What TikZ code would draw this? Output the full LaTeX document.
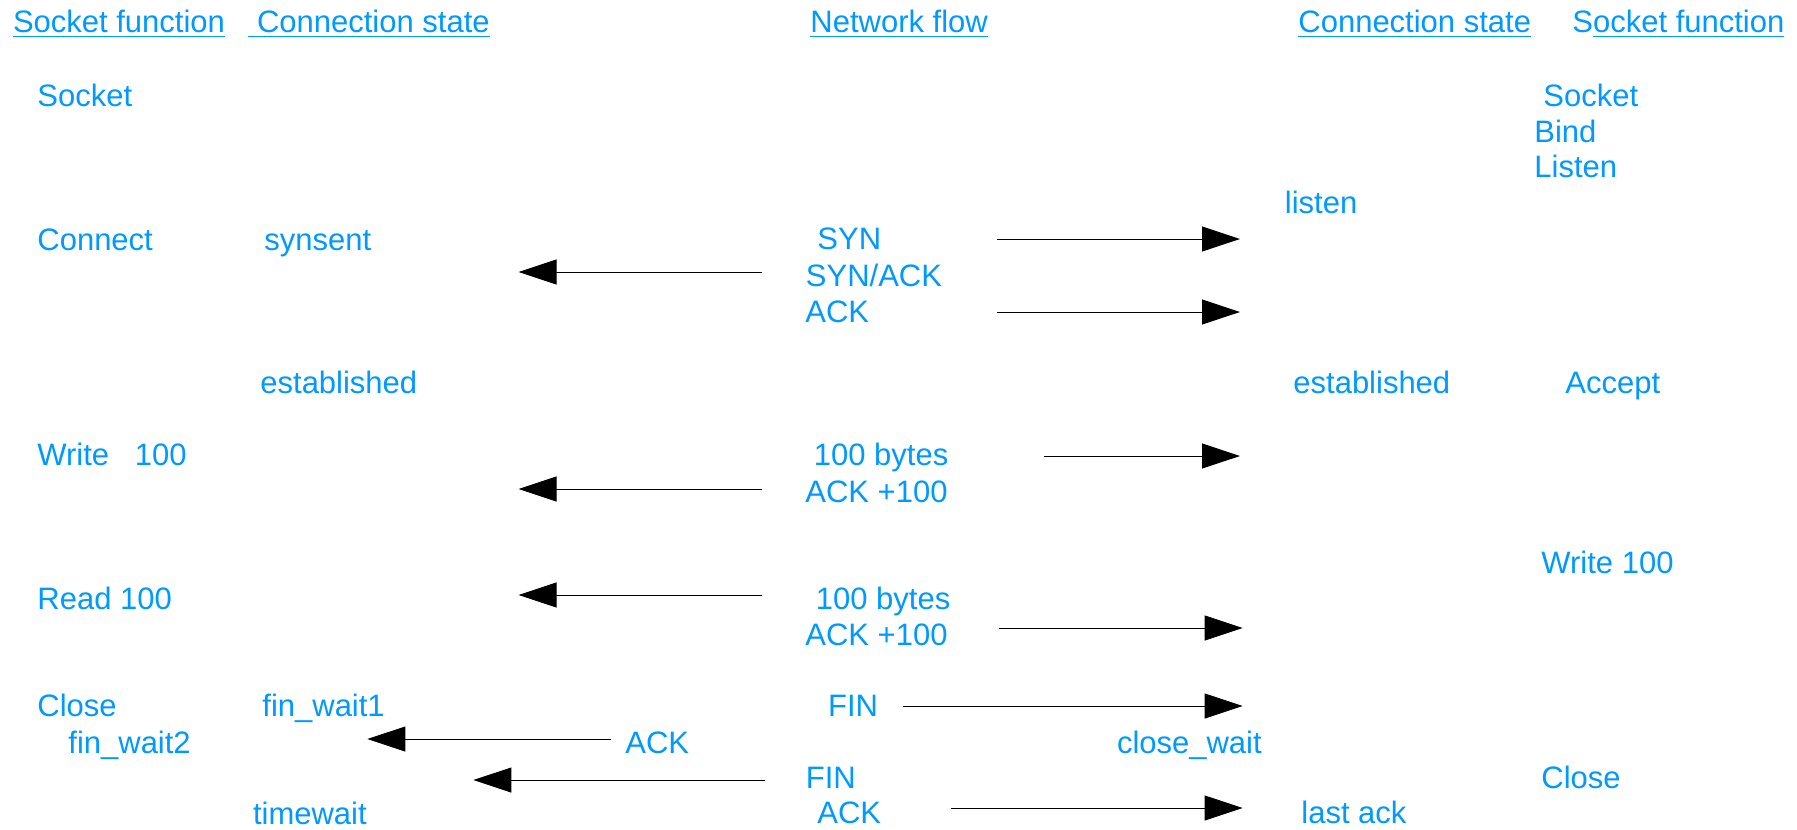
\documentclass[tikz,border=0pt]{standalone}
\usepackage{fontspec}
\setmainfont{Liberation Sans}
\usetikzlibrary{arrows.meta}
\definecolor{flowblue}{RGB}{0,153,255}

\begin{document}
\begin{tikzpicture}[
  x=0.5pt, y=-0.5pt,
  every node/.style={anchor=base west, inner sep=0pt, text=flowblue, font=\fontsize{15.5}{18}\selectfont},
  msg/.style={line width=0.5pt, -{Triangle[length=19pt, width=12.5pt]}}
]
\useasboundingbox (0,0) rectangle (1797,829);

\node (funcL)  at (12.6,33)  {\underline{Socket function}};
\node (stateL) at (248,33)   {\underline{\ Connection state}};
\node (flow)   at (810,33)   {\underline{Network flow}};
\node (stateR) at (1298,33)  {\underline{Connection state}};
\node (funcR)  at (1572,33)  {S\underline{ocket function}};

\node (socketL)  at (37,106)     {Socket};
\node (connect)  at (37,250)     {Connect};
\node (synsent)  at (264,250)    {synsent};
\node (estL)     at (260,393)    {established};
\node (writeL)   at (37,465)     {Write\ \ \ 100};
\node (readL)    at (37,609)     {Read 100};
\node (closeL)   at (37,716)     {Close};
\node (finwait1) at (262,716)    {fin\_wait1};
\node (finwait2) at (68,753)     {fin\_wait2};
\node (timewait) at (252.6,824)  {timewait};

\node (syn)    at (817,249)    {SYN};
\node (synack) at (805.5,286)  {SYN/ACK};
\node (ackA)   at (805,322)    {ACK};
\node (bytesA) at (813.5,465)  {100 bytes};
\node (ackpA)  at (805,502)    {ACK +100};
\node (bytesB) at (815.5,609)  {100 bytes};
\node (ackpB)  at (805,645)    {ACK +100};
\node (finA)   at (827.7,716)  {FIN};
\node (ackB)   at (625,753)    {ACK};
\node (finB)   at (805.5,788)  {FIN};
\node (ackC)   at (817,823)    {ACK};

\node (socketR)   at (1543,106)   {Socket};
\node (bind)      at (1534,142)   {Bind};
\node (listenR)   at (1534,177)   {Listen};
\node (listen)    at (1284.5,213) {listen};
\node (estR)      at (1293,393)   {established};
\node (accept)    at (1565,393)   {Accept};
\node (writeR)    at (1541,573)   {Write 100};
\node (closewait) at (1116.6,753) {close\_wait};
\node (closeR)    at (1541,788)   {Close};
\node (lastack)   at (1301,823)   {last ack};

\coordinate (synS)    at (996.5,239);
\coordinate (synE)    at (1240,239);
\coordinate (synackS) at (761.5,272);
\coordinate (synackE) at (518.6,272);
\coordinate (ackAS)   at (996.5,312);
\coordinate (ackAE)   at (1240,312);
\coordinate (bytesAS) at (1044,456);
\coordinate (bytesAE) at (1240,456);
\coordinate (ackpAS)  at (761.5,489);
\coordinate (ackpAE)  at (518.6,489);
\coordinate (bytesBS) at (761.5,595);
\coordinate (bytesBE) at (518.6,595);
\coordinate (ackpBS)  at (999,628);
\coordinate (ackpBE)  at (1242.6,628);
\coordinate (finAS)   at (903,706);
\coordinate (finAE)   at (1242.6,706);
\coordinate (ackBS)   at (610.7,739);
\coordinate (ackBE)   at (367.4,739);
\coordinate (finBS)   at (764.6,780);
\coordinate (finBE)   at (473.4,780);
\coordinate (ackCS)   at (951,808);
\coordinate (ackCE)   at (1242.6,808);

\draw[msg] (synS) -- (synE);
\draw[msg] (synackS) -- (synackE);
\draw[msg] (ackAS) -- (ackAE);
\draw[msg] (bytesAS) -- (bytesAE);
\draw[msg] (ackpAS) -- (ackpAE);
\draw[msg] (bytesBS) -- (bytesBE);
\draw[msg] (ackpBS) -- (ackpBE);
\draw[msg] (finAS) -- (finAE);
\draw[msg] (ackBS) -- (ackBE);
\draw[msg] (finBS) -- (finBE);
\draw[msg] (ackCS) -- (ackCE);
\end{tikzpicture}
\end{document}
